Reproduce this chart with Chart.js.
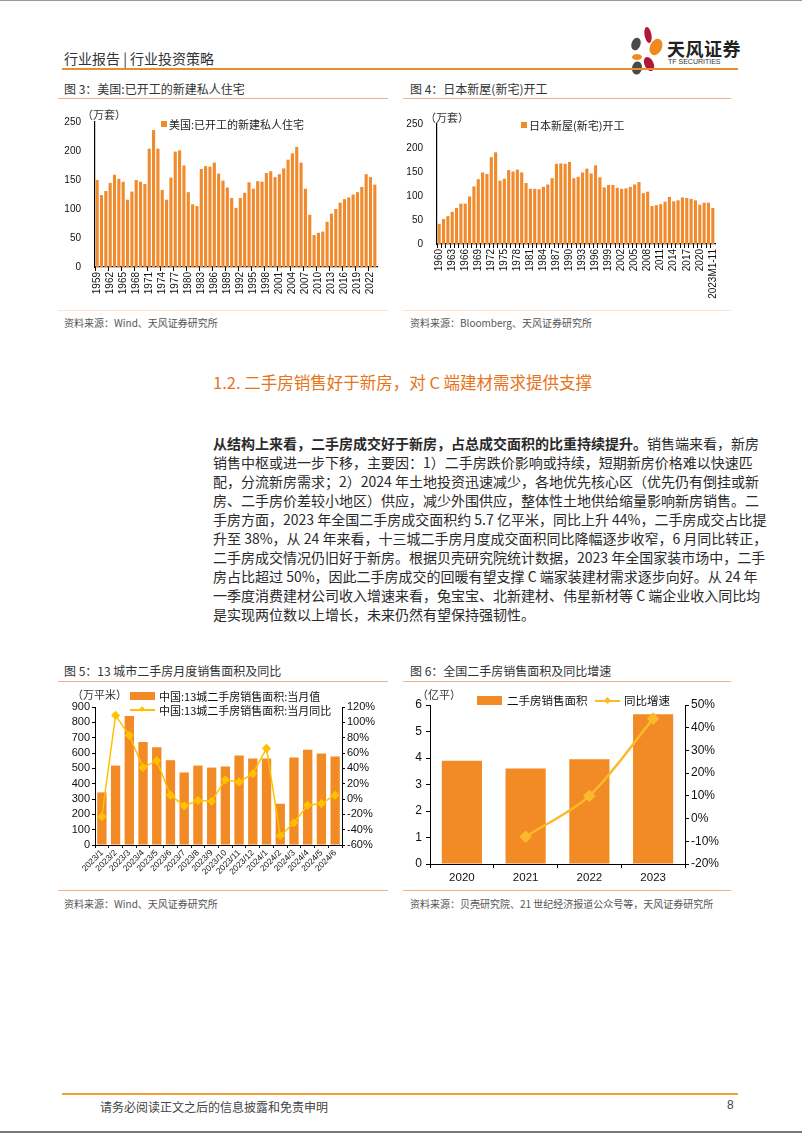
<!DOCTYPE html>
<html><head><meta charset="utf-8">
<script src="https://cdn.jsdelivr.net/npm/chart.js@4.4.1/dist/chart.umd.min.js"></script>
<style>
html,body{margin:0;padding:0;background:#fff}
body{width:802px;height:1133px;position:relative;overflow:hidden;font-family:"Noto Sans CJK SC","Noto Sans",sans-serif;color:#222}
.a{position:absolute;white-space:nowrap}
.hl{position:absolute;height:1px;background:#F4B183}
canvas{position:absolute}
.title{font-size:12px;color:#333}
.src{font-size:10px;color:#555}
.body{position:absolute;left:213px;width:529px;font-size:14px;color:#2a2a2a}
.ln{height:19px;line-height:19px;text-align:justify;text-align-last:justify;white-space:nowrap}
.ln.last{text-align-last:left}
.sw{position:absolute;background:#F08A2C}
.leg{font-size:11px;color:#111}
</style></head>
<body>
<div style="position:absolute;left:0;top:0;width:802px;height:1px;background:#999"></div>
<div style="position:absolute;left:0;bottom:0;width:802px;height:2px;background:#777"></div>

<div class="a" style="left:64px;top:48px;font-size:14px;color:#333">行业报告 | 行业投资策略</div>
<svg class="a" style="left:627px;top:26px" width="40" height="50" viewBox="0 0 40 50">
  <ellipse cx="9" cy="18" rx="4.5" ry="6.5" fill="#4a4a4a" transform="rotate(20 9 18)"/>
  <ellipse cx="21" cy="9" rx="3.5" ry="8" fill="#b0183a" transform="rotate(-10 21 9)"/>
  <ellipse cx="29" cy="21" rx="6" ry="8.5" fill="#f08a1c" transform="rotate(25 29 21)"/>
  <ellipse cx="10" cy="31" rx="5" ry="3" fill="#f08a1c"/>
  <ellipse cx="22" cy="38" rx="4.5" ry="7.5" fill="#b0183a" transform="rotate(-25 22 38)"/>
  <ellipse cx="10" cy="42" rx="5" ry="6.5" fill="#4a4a4a" transform="rotate(10 10 42)"/>
</svg>
<div class="a" style="left:667px;top:35px;font-size:18px;font-weight:bold;color:#222;letter-spacing:0.5px">天风证券</div>
<div class="a" style="left:668px;top:58px;font-size:7px;color:#333;font-family:'Liberation Sans',sans-serif">TF SECURITIES</div>
<div style="position:absolute;left:62px;top:68px;width:676px;height:2px;background:#EE8B2D"></div>

<div class="a title" style="left:64px;top:80px">图 3：美国:已开工的新建私人住宅</div>
<div class="hl" style="left:58px;top:98px;width:330px"></div>
<div class="a title" style="left:410px;top:80px">图 4：日本新屋(新宅)开工</div>
<div class="hl" style="left:403px;top:98px;width:328px"></div>

<canvas id="c3" width="330" height="205" style="left:58px;top:100px"></canvas>
<canvas id="c4" width="330" height="205" style="left:403px;top:100px"></canvas>

<div class="a" style="left:82px;top:106px;font-size:11px;color:#333">（万套）</div>
<div class="sw" style="left:161px;top:121px;width:6px;height:6px"></div>
<div class="a" style="left:169px;top:116px;font-size:11px;color:#222">美国:已开工的新建私人住宅</div>

<div class="a" style="left:425px;top:109px;font-size:11px;color:#333">（万套）</div>
<div class="sw" style="left:521px;top:122px;width:6px;height:6px"></div>
<div class="a" style="left:529px;top:117px;font-size:11px;color:#222">日本新屋(新宅)开工</div>

<div class="hl" style="left:58px;top:310px;width:330px;background:#FBE3D0"></div>
<div class="hl" style="left:403px;top:310px;width:328px;background:#FBE3D0"></div>
<div class="a src" style="left:64px;top:315px">资料来源：Wind、天风证券研究所</div>
<div class="a src" style="left:410px;top:315px">资料来源：Bloomberg、天风证券研究所</div>

<div class="a" style="left:213px;top:370px;font-size:16.5px;color:#E8731A">1.2. 二手房销售好于新房，对 C 端建材需求提供支撑</div>

<div class="body" style="top:434px">
<div class="ln"><b>从结构上来看，二手房成交好于新房，占总成交面积的比重持续提升。</b>销售端来看，新房</div>
<div class="ln">销售中枢或进一步下移，主要因：1）二手房跌价影响或持续，短期新房价格难以快速匹</div>
<div class="ln">配，分流新房需求；2）2024 年土地投资迅速减少，各地优先核心区（优先仍有倒挂或新</div>
<div class="ln">房、二手房价差较小地区）供应，减少外围供应，整体性土地供给缩量影响新房销售。二</div>
<div class="ln">手房方面，2023 年全国二手房成交面积约 5.7 亿平米，同比上升 44%，二手房成交占比提</div>
<div class="ln">升至 38%，从 24 年来看，十三城二手房月度成交面积同比降幅逐步收窄，6 月同比转正，</div>
<div class="ln">二手房成交情况仍旧好于新房。根据贝壳研究院统计数据，2023 年全国家装市场中，二手</div>
<div class="ln">房占比超过 50%，因此二手房成交的回暖有望支撑 C 端家装建材需求逐步向好。从 24 年</div>
<div class="ln">一季度消费建材公司收入增速来看，兔宝宝、北新建材、伟星新材等 C 端企业收入同比均</div>
<div class="ln last">是实现两位数以上增长，未来仍然有望保持强韧性。</div>
</div>

<div class="a title" style="left:64px;top:662px">图 5：13 城市二手房月度销售面积及同比</div>
<div class="hl" style="left:58px;top:681px;width:330px"></div>
<div class="a title" style="left:410px;top:662px">图 6：全国二手房销售面积及同比增速</div>
<div class="hl" style="left:403px;top:681px;width:328px"></div>

<canvas id="c5" width="332" height="195" style="left:58px;top:685px"></canvas>
<canvas id="c6" width="330" height="200" style="left:403px;top:685px"></canvas>

<div class="a" style="left:72px;top:686px;font-size:11px;color:#333">（万平米）</div>
<div class="sw" style="left:130px;top:692px;width:25px;height:8px;background:#F28A25"></div>
<div class="a leg" style="left:159px;top:688px">中国:13城二手房销售面积:当月值</div>
<div style="position:absolute;left:130px;top:709px;width:25px;height:1.5px;background:#FFC000"></div>
<div style="position:absolute;left:140px;top:707px;width:4px;height:4px;background:#FFC000;transform:rotate(45deg)"></div>
<div class="a leg" style="left:159px;top:702px">中国:13城二手房销售面积:当月同比</div>

<div class="a" style="left:417px;top:686px;font-size:11px;color:#333">（亿平）</div>
<div class="sw" style="left:477px;top:696px;width:25px;height:9px;background:#F28A25"></div>
<div class="a" style="left:507px;top:692px;font-size:11.5px;color:#111">二手房销售面积</div>
<div style="position:absolute;left:595px;top:700px;width:25px;height:2px;background:#FBBA2A"></div>
<div style="position:absolute;left:605px;top:698px;width:5px;height:5px;background:#FBBA2A;transform:rotate(45deg)"></div>
<div class="a" style="left:624px;top:692px;font-size:11.5px;color:#111">同比增速</div>

<div class="hl" style="left:58px;top:890px;width:330px"></div>
<div class="hl" style="left:403px;top:890px;width:328px"></div>
<div class="a src" style="left:64px;top:896px">资料来源：Wind、天风证券研究所</div>
<div class="a src" style="left:410px;top:896px">资料来源：贝壳研究院、21 世纪经济报道公众号等，天风证券研究所</div>

<div style="position:absolute;left:62px;top:1093px;width:676px;height:2px;background:#F0A030"></div>
<div class="a" style="left:100px;top:1098px;font-size:12px;color:#444">请务必阅读正文之后的信息披露和免责申明</div>
<div class="a" style="left:727px;top:1098px;font-size:12px;color:#444;font-family:'Liberation Sans',sans-serif">8</div>

<script>
// ---------- data ----------
const usYears = ['1959','1960','1961','1962','1963','1964','1965','1966','1967','1968','1969','1970','1971','1972','1973','1974','1975','1976','1977','1978','1979','1980','1981','1982','1983','1984','1985','1986','1987','1988','1989','1990','1991','1992','1993','1994','1995','1996','1997','1998','1999','2000','2001','2002','2003','2004','2005','2006','2007','2008','2009','2010','2011','2012','2013','2014','2015','2016','2017','2018','2019','2020','2021','2022','2023'];
const usStarts = [150,124,131,145,159,152,147,116,130,150,147,143,204,236,204,133,116,154,199,201,175,129,108,105,169,174,173,180,161,149,137,119,102,119,128,146,135,148,147,162,165,155,160,170,185,196,207,180,135,90,55,59,61,78,92,100,111,117,120,125,129,138,160,155,142];

const jpYears = ['1960','1961','1962','1963','1964','1965','1966','1967','1968','1969','1970','1971','1972','1973','1974','1975','1976','1977','1978','1979','1980','1981','1982','1983','1984','1985','1986','1987','1988','1989','1990','1991','1992','1993','1994','1995','1996','1997','1998','1999','2000','2001','2002','2003','2004','2005','2006','2007','2008','2009','2010','2011','2012','2013','2014','2015','2016','2017','2018','2019','2020','2021','2022','2023M1-11'];
const jpStarts = [42,52,58,67,75,84,84,99,120,135,149,146,181,191,132,136,154,151,155,149,127,115,115,114,119,124,137,167,168,167,171,137,140,149,157,147,164,139,118,123,123,117,115,116,119,124,129,106,109,79,81,83,88,98,89,91,97,96,94,91,82,86,86,75];

const months13 = ['2023/1','2023/2','2023/3','2023/4','2023/5','2023/6','2023/7','2023/8','2023/9','2023/10','2023/11','2023/12','2024/1','2024/2','2024/3','2024/4','2024/5','2024/6'];
const area13 = [343,518,842,672,638,553,473,518,505,512,583,564,564,269,570,622,596,577];
const yoy13 = [-23,109,83,41,50,5,-9,-2,-3,25,22,33,66,-48,-31,-8,-6,5];

const years6 = ['2020','2021','2022','2023'];
const area6 = [3.9,3.6,3.95,5.65];
const yoy6 = [null,-8,10,44];

// ---------- helpers ----------
const NUM = 'Liberation Sans';
Chart.defaults.color = '#111';
Chart.defaults.font.family = NUM;
const base = {responsive:false, animation:false, events:[],
  plugins:{legend:{display:false}, tooltip:{enabled:false}}};

function yearBar(id, labels, vals, pad, yW, xH, tickEvery){
  return new Chart(document.getElementById(id), {
    type:'bar',
    data:{labels:labels, datasets:[{data:vals, backgroundColor:'#F08A2C', barPercentage:0.72, categoryPercentage:1}]},
    options:Object.assign({}, base, {
      layout:{padding:pad},
      scales:{
        x:{grid:{display:true, drawOnChartArea:false, tickLength:4, offset:true,
              color:(c)=> (c.index % tickEvery === 0 ? '#000' : 'rgba(0,0,0,0)')},
           border:{display:true, color:'#000', width:1.2},
           ticks:{autoSkip:false, minRotation:90, maxRotation:90, padding:1, font:{size:10}, color:'#111',
              callback:function(v,i){return i%3===0 ? this.getLabelForValue(v) : '';}},
           afterFit:(s)=>{s.height = xH;}},
        y:{min:0, max:250, grid:{display:false}, border:{display:true, color:'#000', width:1.2},
           ticks:{stepSize:50, autoSkip:false, padding:6, font:{size:10}, color:'#111'},
           afterFit:(s)=>{s.width = yW;}}
      }
    })
  });
}
yearBar('c3', usYears, usStarts, {top:22,right:11,left:0,bottom:0}, 37, 38, 3);
yearBar('c4', jpYears, jpStarts, {top:24,right:18,left:0,bottom:0}, 34, 61, 1);

// Figure 5
new Chart(document.getElementById('c5'), {
  type:'bar',
  data:{labels:months13, datasets:[
    {type:'line', data:yoy13, yAxisID:'y1', borderColor:'#FFC000', backgroundColor:'#FFC000', borderWidth:1.5,
     pointStyle:'rectRot', pointRadius:3.5, tension:0, order:0},
    {type:'bar', data:area13, yAxisID:'y', backgroundColor:'#F28A25', barPercentage:0.68, categoryPercentage:1, order:1}
  ]},
  options:Object.assign({}, base, {
    layout:{padding:{top:22,right:0,left:0,bottom:0}},
    scales:{
      x:{grid:{display:true, drawOnChartArea:false, tickLength:3, color:'#000', offset:true},
         border:{display:true, color:'#000'},
         ticks:{autoSkip:false, minRotation:45, maxRotation:45, padding:0, font:{size:8.5}, color:'#111'},
         afterFit:(s)=>{s.height = 35;}},
      y:{min:0, max:900, grid:{display:true, drawOnChartArea:false, tickLength:3, color:'#000'},
         border:{display:true, color:'#000'},
         ticks:{stepSize:100, autoSkip:false, padding:2, font:{size:11}, color:'#111'},
         afterFit:(s)=>{s.width = 37;}},
      y1:{position:'right', min:-60, max:120, grid:{display:true, drawOnChartArea:false, tickLength:3, color:'#000'},
         border:{display:true, color:'#000'},
         ticks:{stepSize:20, autoSkip:false, padding:2, font:{size:11}, color:'#111', callback:(v)=>v+'%'},
         afterFit:(s)=>{s.width = 48;}}
    }
  })
});

// Figure 6
new Chart(document.getElementById('c6'), {
  type:'bar',
  data:{labels:years6, datasets:[
    {type:'line', data:yoy6, yAxisID:'y1', borderColor:'#FBBA2A', backgroundColor:'#FBBA2A', borderWidth:2.5,
     pointStyle:'rectRot', pointRadius:4.5, tension:0.3, order:0},
    {type:'bar', data:area6, yAxisID:'y', backgroundColor:'#F28A25', barPercentage:0.63, categoryPercentage:1, order:1}
  ]},
  options:Object.assign({}, base, {
    layout:{padding:{top:20,right:0,left:0,bottom:0}},
    scales:{
      x:{grid:{display:true, drawOnChartArea:false, tickLength:4, color:'#000', offset:true},
         border:{display:true, color:'#000'},
         ticks:{padding:3, font:{size:11.5}, color:'#111'},
         afterFit:(s)=>{s.height = 21;}},
      y:{min:0, max:6, grid:{display:true, drawOnChartArea:false, tickLength:4, color:'#000'},
         border:{display:true, color:'#000'},
         ticks:{stepSize:1, autoSkip:false, padding:4, font:{size:12}, color:'#111'},
         afterFit:(s)=>{s.width = 27;}},
      y1:{position:'right', min:-20, max:50, grid:{display:true, drawOnChartArea:false, tickLength:4, color:'#000'},
         border:{display:true, color:'#000'},
         ticks:{stepSize:10, autoSkip:false, padding:2, font:{size:12}, color:'#111', callback:(v)=>v+'%'},
         afterFit:(s)=>{s.width = 48;}}
    }
  })
});
</script>
</body></html>
